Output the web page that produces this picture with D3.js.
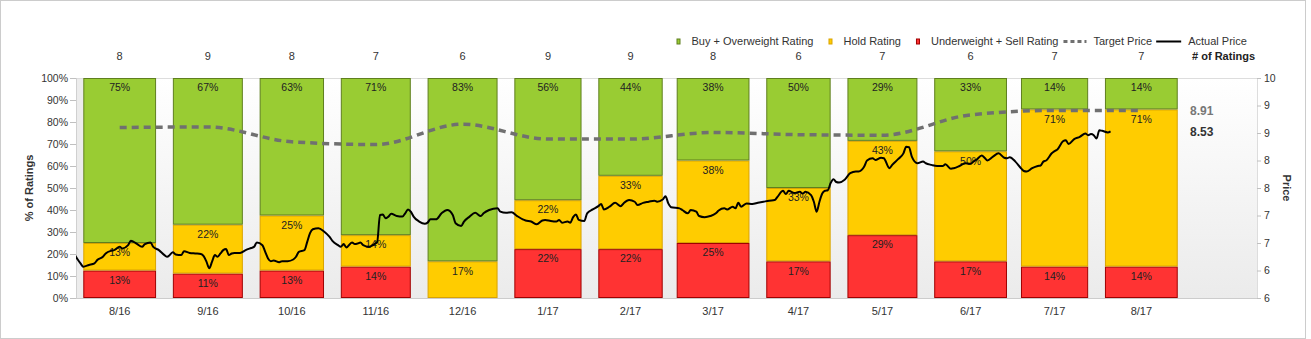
<!DOCTYPE html>
<html><head><meta charset="utf-8">
<script src="https://cdn.jsdelivr.net/npm/d3@7"></script>
<style>
html,body{margin:0;padding:0;background:#fff;}
svg{display:block;}
.reg{font-family:"Liberation Sans",Arial,sans-serif;}
</style></head>
<body><svg id="c" width="1311" height="339"></svg>
<script>
// ---------- data ----------
const months = ["8/16","9/16","10/16","11/16","12/16","1/17","2/17","3/17","4/17","5/17","6/17","7/17","8/17"];
const barStart = ["2016-08-01","2016-09-02","2016-10-03","2016-11-01","2016-12-02","2017-01-02","2017-02-01","2017-03-01","2017-04-02","2017-05-01","2017-06-01","2017-07-02","2017-08-01"];
const barEnd = ["2016-08-27","2016-09-27","2016-10-26","2016-11-26","2016-12-27","2017-01-26","2017-02-24","2017-03-27","2017-04-25","2017-05-26","2017-06-27","2017-07-26","2017-08-27"];
const buyCount  = [6,6,5,5,5,5,4,3,3,2,2,1,1];
const holdCount = [1,2,2,1,1,2,3,3,2,3,3,5,5];
const sellCount = [1,1,1,1,0,2,2,2,1,2,1,1,1];
const targetPrice = [8.60,8.61,8.34,8.29,8.66,8.39,8.39,8.51,8.47,8.46,8.83,8.91,8.91];
const priceStart = "2016-08-01";
const priceDay = [-3,-2,-1,0,2,4,5,7,8,10,11,13,14,16,17,19,21,22,24,25,27,29,30,32,33,35,36,38,40,42,43,44,45,46,47,48,49,50,51,52,53,54,56,58,60,61,62,64,65,66,67,68,70,71,73,75,76,77,79,80,81,82,84,86,88,89,91,92,93,94,96,97,98,99,100,102,103,104,105,106,107,108,109,110,112,114,115,116,117,118,120,122,123,124,126,128,130,132,133,135,136,138,140,142,143,145,148,149,151,153,155,157,158,160,162,164,165,167,169,170,171,173,174,175,176,177,179,180,182,184,185,186,188,190,192,193,195,197,198,200,202,204,205,207,208,209,210,213,214,216,217,219,220,222,224,226,227,229,230,232,233,234,235,237,239,241,243,245,247,248,250,251,252,254,256,257,258,260,261,262,263,264,265,266,267,268,269,270,272,274,276,277,279,280,282,283,285,286,288,289,291,293,294,295,296,298,300,301,303,305,307,308,310,311,313,315,317,318,319,321,322,323,325,327,329,330,331,333,335,336,337,339,341,342,343,344,346,347,348,350,351,352,354,356,358,359,360,361,362,363,364,366,367];
const priceValue = [6.28,6.20,6.13,6.07,6.10,6.13,6.19,6.25,6.31,6.36,6.37,6.43,6.40,6.46,6.54,6.49,6.43,6.48,6.51,6.43,6.37,6.28,6.25,6.33,6.29,6.28,6.35,6.32,6.31,6.30,6.26,6.16,6.04,6.16,6.28,6.25,6.31,6.37,6.39,6.28,6.31,6.32,6.32,6.37,6.41,6.43,6.51,6.46,6.34,6.22,6.17,6.18,6.15,6.17,6.17,6.20,6.25,6.34,6.37,6.52,6.68,6.75,6.77,6.71,6.61,6.54,6.46,6.43,6.48,6.42,6.51,6.48,6.49,6.51,6.46,6.43,6.45,6.48,6.52,7.01,7.02,6.95,6.98,7.03,6.99,6.98,7.04,7.11,7.07,6.98,6.89,6.85,6.87,6.93,6.93,7.04,7.10,7.01,6.86,6.81,6.89,6.98,7.05,6.99,7.04,7.10,7.13,7.07,7.05,7.06,6.99,6.93,6.91,6.89,6.84,6.91,6.92,6.90,6.89,6.92,6.87,6.89,6.87,6.97,7.02,6.92,6.90,7.04,7.11,7.17,7.21,7.11,7.16,7.23,7.17,7.22,7.28,7.25,7.19,7.23,7.25,7.27,7.25,7.29,7.35,7.22,7.15,7.13,7.10,7.04,7.10,7.07,6.99,6.97,6.99,7.04,7.09,7.13,7.11,7.16,7.13,7.23,7.16,7.22,7.21,7.23,7.25,7.27,7.28,7.34,7.45,7.39,7.45,7.41,7.43,7.40,7.43,7.37,7.25,7.07,7.25,7.40,7.45,7.46,7.59,7.66,7.61,7.60,7.65,7.77,7.80,7.80,7.89,8.00,8.04,8.01,8.05,8.04,7.86,7.92,8.02,8.13,8.25,8.24,8.07,7.95,7.98,7.95,7.92,7.90,7.90,7.93,7.85,7.86,7.90,7.95,7.94,7.98,8.01,8.09,8.05,8.00,8.07,8.13,8.05,8.04,8.06,7.98,7.86,7.81,7.80,7.86,7.90,7.91,7.98,8.00,8.13,8.17,8.20,8.35,8.37,8.30,8.39,8.43,8.49,8.46,8.48,8.46,8.40,8.55,8.54,8.51,8.53];
const pctTicks = [0,10,20,30,40,50,60,70,80,90,100];
const priceTicks = [5.5,6,6.5,7,7.5,8,8.5,9,9.5];
const lastTarget = 8.91, lastPrice = 8.53;
const legendItems = ["Buy + Overweight Rating","Hold Rating","Underweight + Sell Rating","Target Price","Actual Price"];

// ---------- setup ----------
const parse = d3.utcParse("%Y-%m-%d");
const svg = d3.select("#c");
const W = 1311, H = 339;
const L = 76, R = 1257, T = 78, B = 298;
const x = d3.scaleUtc().domain([parse("2016-07-29"), parse("2017-09-24")]).range([74.9, 1256.1]);
const yP = d3.scaleLinear().domain([0,100]).range([B,T]);
const yPrice = d3.scaleLinear().domain([5.5,9.5]).range([B,T]);
const colors = {buy:"#99cc33", hold:"#ffcc00", sell:"#ff3333"};
const strokes = {buy:"#5f7f1f", hold:"#d9a300", sell:"#a00000"};

function label(parent, tx, ty, txt, anchor, size, weight, fill){
  const t = parent.append("text").attr("class","reg").attr("x",tx).attr("y",ty).attr("dy","0.35em")
    .attr("text-anchor",anchor).attr("font-size",size).attr("font-weight",weight||"normal")
    .attr("fill",fill||"#333").text(txt);
  return t.node().getComputedTextLength();
}

// outer border
svg.append("rect").attr("x",0.5).attr("y",0.5).attr("width",W-6).attr("height",H-1)
  .attr("fill","none").attr("stroke","#cccccc");

// plot background gradient
const defs = svg.append("defs");
const g1 = defs.append("linearGradient").attr("id","bg").attr("x1",0).attr("y1",0).attr("x2",0).attr("y2",1);
g1.append("stop").attr("offset","0%").attr("stop-color","#ffffff");
g1.append("stop").attr("offset","100%").attr("stop-color","#ebebeb");
svg.append("rect").attr("x",L).attr("y",T).attr("width",R-L).attr("height",B-T).attr("fill","url(#bg)");
svg.append("rect").attr("x",L).attr("y",T).attr("width",7).attr("height",B-T).attr("fill","#ececec");
defs.append("clipPath").attr("id","clip").append("rect").attr("x",L).attr("y",T-2).attr("width",R-L).attr("height",B-T+2);

// frame lines
svg.append("line").attr("x1",L).attr("x2",R).attr("y1",T+0.5).attr("y2",T+0.5).attr("stroke","#dddddd");
svg.append("line").attr("x1",L+0.5).attr("x2",L+0.5).attr("y1",T).attr("y2",B).attr("stroke","#d0d0d0");

// ---------- bars ----------
const rows = months.map((m,i)=>{
  const tot = buyCount[i]+holdCount[i]+sellCount[i];
  const s = sellCount[i]/tot*100, h = holdCount[i]/tot*100, b = buyCount[i]/tot*100;
  return {m, tot, x0:x(parse(barStart[i])), x1:x(parse(barEnd[i])),
    segs:[{k:"sell",lo:0,hi:s,v:s},{k:"hold",lo:s,hi:s+h,v:h},{k:"buy",lo:s+h,hi:100,v:b}]};
});
const gb = svg.append("g");
rows.forEach(r=>{
  r.segs.filter(s=>s.v>0).forEach(s=>{
    gb.append("rect").attr("x",r.x0+0.5).attr("y",yP(s.hi)+0.5)
      .attr("width",r.x1-r.x0-1).attr("height",Math.max(0,yP(s.lo)-yP(s.hi)-1))
      .attr("fill",colors[s.k]).attr("stroke",strokes[s.k]).attr("stroke-width",1);
  });
});
rows.forEach(r=>{
  r.segs.filter(s=>s.v>0).forEach(s=>{
    label(gb, (r.x0+r.x1)/2, yP(s.hi)+9.5, Math.round(s.v)+"%", "middle", "10.5px", "normal", "#222");
  });
});

// ---------- axes ----------
const axL = svg.append("g").attr("transform",`translate(${L},0)`)
  .call(d3.axisLeft(yP).tickValues(pctTicks).tickSize(6).tickPadding(2).tickFormat(d=>d+"%"));
axL.select(".domain").remove();
axL.selectAll("line").attr("stroke","#c0c0c0");
axL.selectAll("text").attr("class","reg").attr("font-size","10.5px").attr("fill","#333").attr("font-family",null);

const axR = svg.append("g").attr("transform",`translate(${R},0)`)
  .call(d3.axisRight(yPrice).tickValues(priceTicks).tickSize(4).tickPadding(3).tickFormat(d=>Math.round(d)));
axR.select(".domain").attr("stroke","#dddddd");
axR.selectAll("line").attr("stroke","#c0c0c0");
axR.selectAll("text").attr("class","reg").attr("font-size","10.5px").attr("fill","#333").attr("font-family",null);

svg.append("line").attr("x1",L).attr("x2",R).attr("y1",B+0.5).attr("y2",B+0.5).attr("stroke","#cccccc");

// month labels & counts
rows.forEach(r=>{
  const cx = (r.x0+r.x1)/2;
  label(svg, cx, 311, r.m, "middle", "11px", "normal", "#333");
  label(svg, cx, 56.5, r.tot, "middle", "11px", "normal", "#333");
});
label(svg, 1255, 56.5, "# of Ratings", "end", "11px", "bold", "#222");

// axis titles
svg.append("text").attr("class","reg").attr("transform","translate(29.5,188) rotate(-90)")
  .attr("text-anchor","middle").attr("dy","0.35em").attr("font-size","11px").attr("font-weight","bold").attr("fill","#333").text("% of Ratings");
svg.append("text").attr("class","reg").attr("transform","translate(1286.5,188) rotate(90)")
  .attr("text-anchor","middle").attr("dy","0.35em").attr("font-size","11px").attr("font-weight","bold").attr("fill","#333").text("Price");

// ---------- lines ----------
const gl = svg.append("g").attr("clip-path","url(#clip)");
const tgt = rows.map((r,i)=>({x:(r.x0+r.x1)/2, y:yPrice(targetPrice[i])}));
gl.append("path").datum(tgt)
  .attr("d",d3.line().x(d=>d.x).y(d=>d.y).curve(d3.curveMonotoneX))
  .attr("fill","none").attr("stroke","#707070").attr("stroke-width",3.5).attr("stroke-dasharray","7,5");
const p0 = parse(priceStart);
const pts = priceDay.map((d,i)=>({d:d3.utcDay.offset(p0,d), v:priceValue[i]}));
gl.append("path").datum(pts)
  .attr("d",d3.line().x(d=>x(d.d)).y(d=>yPrice(d.v)).curve(d3.curveMonotoneX))
  .attr("fill","none").attr("stroke","#000").attr("stroke-width",2).attr("stroke-linejoin","round");

label(svg, 1190, yPrice(lastTarget), lastTarget.toFixed(2), "start", "12px", "bold", "#777");
label(svg, 1190, yPrice(lastPrice), lastPrice.toFixed(2), "start", "12px", "bold", "#333");

// ---------- legend ----------
const lg = svg.append("g");
const ly = 41.5;
let lx = 676.5;
legendItems.forEach((t,i)=>{
  let tx;
  if(i<3){
    const k = ["buy","hold","sell"][i];
    lg.append("rect").attr("x",lx+0.5).attr("y",ly-2.5).attr("width",3).attr("height",5)
      .attr("fill",colors[k]).attr("stroke",strokes[k]).attr("stroke-width",1);
    tx = lx+15;
  } else if(i===3){
    lg.append("line").attr("x1",lx).attr("x2",lx+23).attr("y1",ly).attr("y2",ly)
      .attr("stroke","#707070").attr("stroke-width",3).attr("stroke-dasharray","4,3");
    tx = lx+30;
  } else {
    lg.append("line").attr("x1",lx).attr("x2",lx+25).attr("y1",ly).attr("y2",ly)
      .attr("stroke","#000").attr("stroke-width",2);
    tx = lx+32;
  }
  const w = label(lg, tx, ly, t, "start", "11px", "normal", "#333");
  lx = tx + w + (i===2 ? 5 : (i===3 ? 4 : 15));
});
</script>
</body></html>
